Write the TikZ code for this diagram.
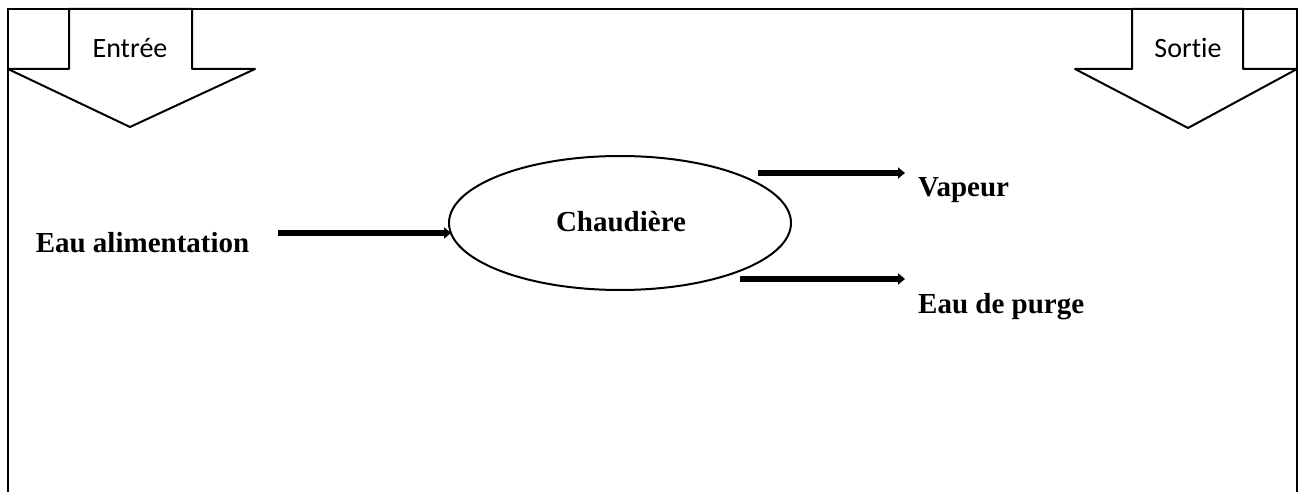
\documentclass[tikz,border=0pt]{standalone}
\usepackage{fontspec}
\setmainfont{Liberation Serif}
\newfontfamily\calib[Ligatures=NoCommon]{Carlito}
\usetikzlibrary{arrows.meta,shapes.geometric}
\begin{document}
\begin{tikzpicture}[x=1pt,y=-1pt,
  frame/.style={line width=2pt},
  blockarrow/.style={line width=2pt, fill=white, line join=round},
  flow/.style={line width=5.5pt, -{Triangle[length=7pt,width=11pt]}},
  lbl/.style={font=\bfseries\fontsize{29}{34}\selectfont, inner sep=0pt},
  tag/.style={font=\calib\fontsize{28}{33}\selectfont, inner sep=0pt}]
\useasboundingbox (0,0) rectangle (1302,492);
% frame
\draw[frame] (8,492) -- (8,9) -- (1297,9) -- (1297,492);
% input block arrow
\draw[blockarrow] (69,9) -- (192,9) -- (192,69) -- (255,69) -- (130,127) -- (8,69) -- (69,69) -- cycle;
\node[tag] (entree) at (130,48) {Entrée};
% output block arrow
\draw[blockarrow] (1132,9) -- (1243,9) -- (1243,69) -- (1297,69) -- (1188,128) -- (1075,69) -- (1132,69) -- cycle;
\node[tag] (sortie) at (1188,48) {Sortie};
% boiler
\node[draw, line width=2pt, ellipse, minimum width=342pt, minimum height=134pt, inner sep=0pt] (chaud) at (620,223) {};
\node[lbl] (chaudt) at (621,222) {Chaudière};
% labels
\node[lbl] (eau) at (142.5,243) {Eau alimentation};
\node[lbl, anchor=west] (vap) at (918,190) {Vapeur};
\node[lbl, anchor=west] (purge) at (918,307) {Eau de purge};
% connectors
\coordinate (inS) at (278,233);
\coordinate (inE) at (451,233);
\coordinate (vS) at (758,173);
\coordinate (vE) at (905,173);
\coordinate (pS) at (740,279);
\coordinate (pE) at (905,279);
\draw[flow] (inS) -- (inE);
\draw[flow] (vS) -- (vE);
\draw[flow] (pS) -- (pE);
\end{tikzpicture}
\end{document}
